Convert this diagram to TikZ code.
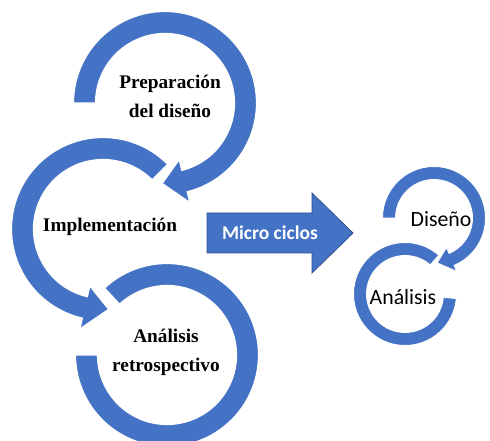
\documentclass[tikz,border=0pt]{standalone}
\usepackage{fontspec}
\setmainfont{Liberation Serif}
\newfontfamily\carlito{Carlito}
\usepackage{xcolor}
\definecolor{ringblue}{HTML}{4472C4}
\definecolor{edgeblue}{HTML}{2F528F}
\tikzset{
  ring/.style={fill=ringblue,draw=white,line width=1.2pt},
  smallring/.style={fill=ringblue,draw=white,line width=0.9pt},
  phaselabel/.style={font=\fontsize{19.3}{29}\selectfont\bfseries,align=center,text=black},
  cyclelabel/.style={font=\carlito\fontsize{21.8}{25}\selectfont,text=black},
}

\begin{document}
\begin{tikzpicture}[x=1pt,y=1pt]
\useasboundingbox (0,0) rectangle (490,441);
% big cycle, bottom ring first
\begin{scope}[shift={(167,86)}]
\draw[ring] (133:91.5) arc[start angle=133,end angle=-180,radius=91.5] -- (180:69.5) arc[start angle=-180,end angle=133,radius=69.5] -- cycle;
\end{scope}
\begin{scope}[shift={(103,212)}]
\draw[ring] (45:91.5) arc[start angle=45,end angle=257,radius=91.5] -- (257:102.5) -- (274:80.5) -- (257:58.5) -- (257:69.5) arc[start angle=257,end angle=45,radius=69.5] -- cycle;
\end{scope}
\begin{scope}[shift={(165,338)}]
\draw[ring] (180:91.5) arc[start angle=180,end angle=-76,radius=91.5] -- (-76:102.5) -- (-92:80.5) -- (-76:58.5) -- (-76:69.5) arc[start angle=-76,end angle=180,radius=69.5] -- cycle;
\end{scope}
\node[phaselabel] (prep) at (170,345) {Preparación\\del diseño};
\node[phaselabel] (impl) at (110,214) {Implementación};
\node[phaselabel] (retro) at (166,89) {Análisis\\retrospectivo};

% arrow
\draw[fill=ringblue,draw=edgeblue,line width=0.8pt] (207,188) -- (312,188) -- (312,168) -- (353,208) -- (312,248) -- (312,228) -- (207,228) -- cycle;
\node[font=\carlito\bfseries\fontsize{19.5}{23}\selectfont,text=white] (micro) at (270,208) {Micro ciclos};

% small cycle
\begin{scope}[shift={(405,147)}]
\draw[smallring] (49:51.5) arc[start angle=49,end angle=355,radius=51.5] -- (355:38.5) arc[start angle=355,end angle=49,radius=38.5] -- cycle;
\end{scope}
\begin{scope}[shift={(434,223)}]
\draw[smallring] (180:51.5) arc[start angle=180,end angle=-67,radius=51.5] -- (-67:58) -- (-86:45) -- (-67:32) -- (-67:38.5) arc[start angle=-67,end angle=180,radius=38.5] -- cycle;
\end{scope}
\node[cyclelabel] (diseno) at (441,222) {Diseño};
\node[cyclelabel] (analisis) at (403,144) {Análisis};
\end{tikzpicture}
\end{document}
